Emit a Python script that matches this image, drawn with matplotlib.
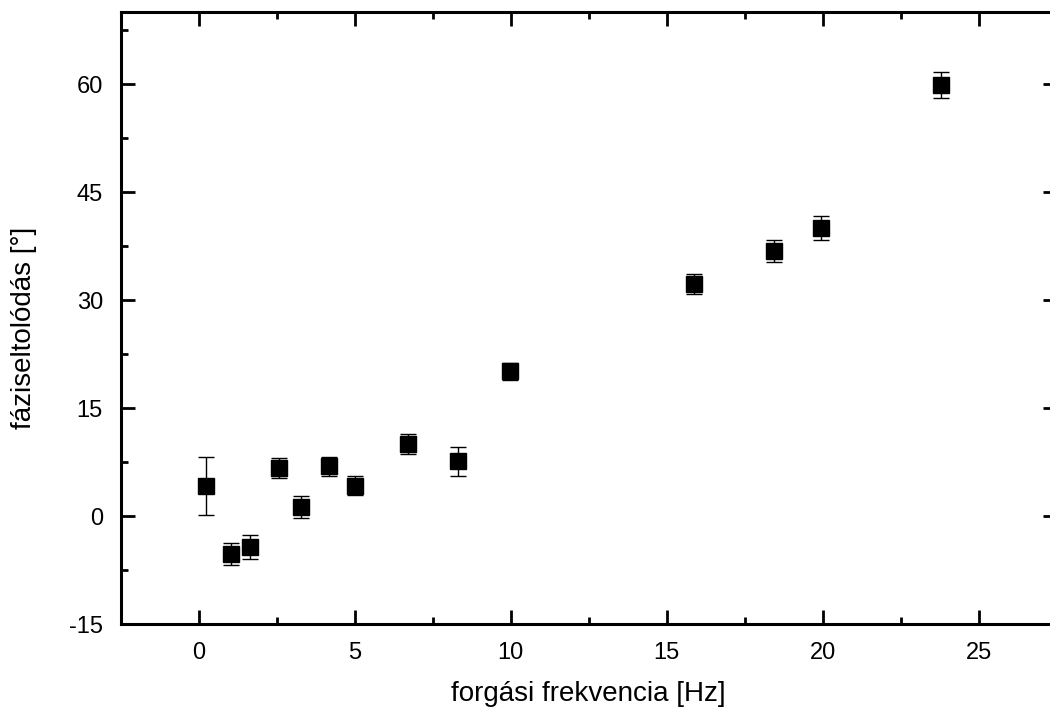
import matplotlib
matplotlib.use('Agg')
import matplotlib.pyplot as plt
from matplotlib.ticker import MultipleLocator

plt.rcParams['font.family'] = ['Liberation Sans', 'DejaVu Sans']
plt.rcParams['axes.unicode_minus'] = False

# forgási frekvencia [Hz], fáziseltolódás [°] és hibája
frekvencia = [0.22, 1.02, 1.63, 2.56, 3.27, 4.16, 4.99, 6.72, 8.32, 9.96, 15.88, 18.44, 19.94, 23.78]
fazis = [4.2, -5.3, -4.3, 6.7, 1.3, 6.9, 4.2, 10.0, 7.6, 20.1, 32.2, 36.8, 40.0, 59.9]
hiba = [4.0, 1.5, 1.7, 1.4, 1.5, 1.3, 1.3, 1.4, 2.0, 1.2, 1.4, 1.5, 1.7, 1.8]

fig = plt.figure(figsize=(10.5, 7.1), dpi=100)
ax = fig.add_axes([0.1152, 0.121, 0.891, 0.862])

ax.errorbar(frekvencia, fazis, yerr=hiba, fmt='s', color='black',
            markersize=12, ecolor='black', elinewidth=1, capsize=6, capthick=1)

ax.set_xlim(-2.5, 27.5)
ax.set_ylim(-15, 70)
ax.xaxis.set_major_locator(MultipleLocator(5))
ax.xaxis.set_minor_locator(MultipleLocator(2.5))
ax.yaxis.set_major_locator(MultipleLocator(15))
ax.yaxis.set_minor_locator(MultipleLocator(7.5))

for s in ax.spines.values():
    s.set_linewidth(2.2)
ax.tick_params(which='both', direction='in', top=True, right=True,
               labeltop=False, labelright=False, width=2, labelsize=17, pad=13)
ax.tick_params(which='major', length=10)
ax.tick_params(which='minor', length=5)

ax.set_xlabel('forgási frekvencia [Hz]', fontsize=20, labelpad=12)
ax.set_ylabel('fáziseltolódás [°]', fontsize=20)
ax.yaxis.set_label_coords(-0.09, 0.484)

fig.savefig('out.png', dpi=100)
